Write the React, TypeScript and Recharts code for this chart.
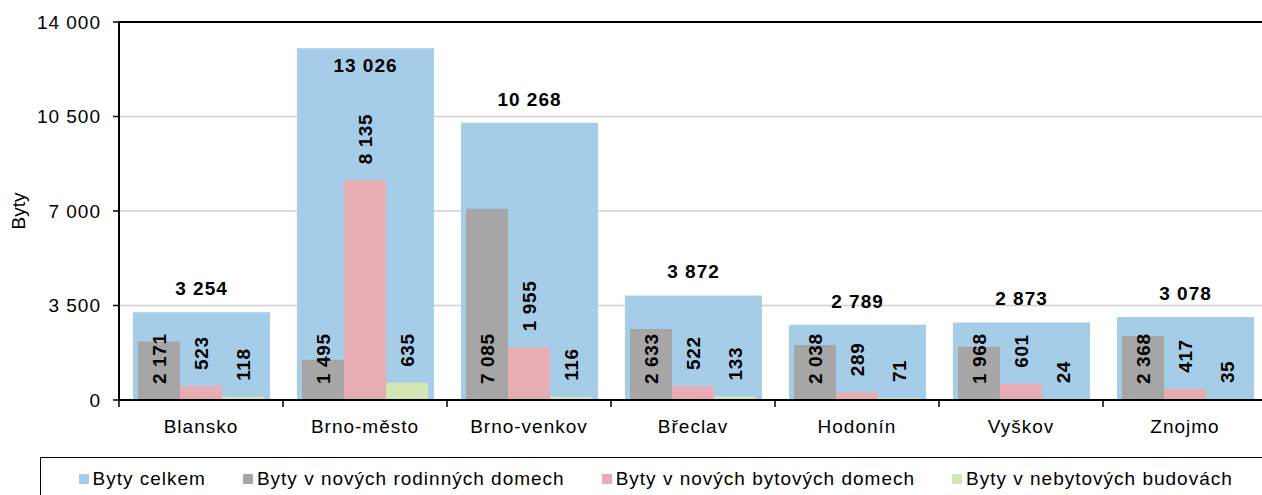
import React from 'react';
import { BarChart, Bar, XAxis, YAxis, CartesianGrid, ReferenceLine } from 'recharts';

const categories = ['Blansko', 'Brno-město', 'Brno-venkov', 'Břeclav', 'Hodonín', 'Vyškov', 'Znojmo'];
const totalFlats = [3254, 13026, 10268, 3872, 2789, 2873, 3078];
const familyHouseFlats = [2171, 1495, 7085, 2633, 2038, 1968, 2368];
const apartmentBuildingFlats = [523, 8135, 1955, 522, 289, 601, 417];
const nonResidentialFlats = [118, 635, 116, 133, 71, 24, 35];
const yTicks = [0, 3500, 7000, 10500, 14000];
const yLabel = 'Byty';
const seriesNames = [
  'Byty celkem',
  'Byty v nových rodinných domech',
  'Byty v nových bytových domech',
  'Byty v nebytových budovách',
];
const seriesColors = ['#a6cde8', '#a6a6a6', '#e6aeb2', '#d3e6b4'];

const data = categories.map((name, i) => ({
  name,
  total: totalFlats[i],
  family: familyHouseFlats[i],
  apartment: apartmentBuildingFlats[i],
  nonres: nonResidentialFlats[i],
}));

const FONT = '"Liberation Sans", Arial, Helvetica, sans-serif';
const fmt = (v: any) => String(v).replace(/\B(?=(\d{3})+(?!\d))/g, ' ');

const TotalLabel = (p: any) => {
  const x = Number(p.x), y = Number(p.y), w = Number(p.width);
  const inside = y < 70;
  return (
    <text x={x + w / 2} y={inside ? y + 24 : y - 17} textAnchor="middle" fontFamily={FONT}
      fontSize={19} fontWeight="bold" letterSpacing={1} fill="#000">
      {fmt(p.value)}
    </text>
  );
};

const rotatedText = (cx: number, startY: number, value: any) => (
  <text x={cx} y={startY} dy="0.35em" transform={`rotate(-90 ${cx} ${startY})`} textAnchor="start"
    fontFamily={FONT} fontSize={19} fontWeight="bold" letterSpacing={0.6} fill="#000">
    {fmt(value)}
  </text>
);

const BaseLabel = (p: any) => {
  const x = Number(p.x), y = Number(p.y), w = Number(p.width), h = Number(p.height);
  return rotatedText(x + w / 2, y + h - 16, p.value);
};

const EndLabel = (p: any) => {
  const x = Number(p.x), y = Number(p.y), w = Number(p.width);
  return rotatedText(x + w / 2, y - 16, p.value);
};

const XTick = (p: any) => {
  const x = Number(p.x), y = Number(p.y);
  let bw = Number(p.width) / Number(p.visibleTicksCount);
  if (!isFinite(bw) || bw <= 0) bw = Number(p.payload?.offset ?? 0) * 2;
  const last = p.index === Number(p.visibleTicksCount) - 1;
  return (
    <g>
      <line x1={x - bw / 2} y1={y} x2={x - bw / 2} y2={y + 7} stroke="#000" strokeWidth={1.5} />
      {last && <line x1={x + bw / 2} y1={y} x2={x + bw / 2} y2={y + 7} stroke="#000" strokeWidth={1.5} />}
      <text x={x} y={y + 33} textAnchor="middle" fontFamily={FONT} fontSize={19} letterSpacing={1} fill="#000">
        {p.payload?.value}
      </text>
    </g>
  );
};

const YLabel = (p: any) => {
  const vb = p.viewBox || { x: 0, y: 22, width: 119, height: 378 };
  const cx = vb.x + 18;
  const cy = vb.y + vb.height / 2;
  return (
    <text x={cx} y={cy} dy="0.35em" transform={`rotate(-90 ${cx} ${cy})`} textAnchor="middle"
      fontFamily={FONT} fontSize={19} fill="#000">
      {yLabel}
    </text>
  );
};

export default function App() {
  return (
    <div style={{ position: 'absolute', left: 0, top: 0, width: 1262, height: 495, overflow: 'hidden', background: '#fff' }}>
      <BarChart width={1270} height={495} data={data} margin={{ top: 22, right: 3, bottom: 65, left: 0 }} barGap={0}>
        <CartesianGrid vertical={false} stroke="#d0d0d0" strokeWidth={1.5} xAxisId="a" />
        <XAxis xAxisId="a" dataKey="name" type="category" interval={0} tickLine={false} tickSize={0} tickMargin={0}
          height={30} axisLine={{ stroke: '#000', strokeWidth: 2 }} tick={<XTick />} />
        <XAxis xAxisId="b" dataKey="name" type="category" hide />
        <YAxis type="number" domain={[0, 14000]} ticks={yTicks} interval={0} width={119}
          tickFormatter={fmt} tickSize={6} tickMargin={12}
          axisLine={{ stroke: '#000', strokeWidth: 2 }} tickLine={{ stroke: '#000', strokeWidth: 1.5 }}
          tick={{ fill: '#000', fontSize: 19, fontFamily: FONT, letterSpacing: 1 }}
          label={{ content: <YLabel /> }} />
        <ReferenceLine y={14000} xAxisId="a" stroke="#000" strokeWidth={2} />
        <Bar xAxisId="a" dataKey="total" name={seriesNames[0]} fill={seriesColors[0]} barSize={137}
          isAnimationActive={false} label={<TotalLabel />} />
        <Bar xAxisId="b" dataKey="family" name={seriesNames[1]} fill={seriesColors[1]} barSize={42}
          isAnimationActive={false} label={<BaseLabel />} />
        <Bar xAxisId="b" dataKey="apartment" name={seriesNames[2]} fill={seriesColors[2]} barSize={42}
          isAnimationActive={false} label={<EndLabel />} />
        <Bar xAxisId="b" dataKey="nonres" name={seriesNames[3]} fill={seriesColors[3]} barSize={42}
          isAnimationActive={false} label={<EndLabel />} />
      </BarChart>
      <div style={{
        position: 'absolute', left: 40, top: 457, width: 1240, height: 60, boxSizing: 'border-box',
        border: '1.5px solid #000', paddingLeft: 37.5, paddingTop: 11,
      }}>
        <div style={{ display: 'flex', alignItems: 'center', height: 19, lineHeight: '19px' }}>
          {seriesNames.map((n, i) => (
            <div key={n} style={{ display: 'flex', alignItems: 'center', marginRight: 37 }}>
              <span style={{ display: 'inline-block', width: 10, height: 10, background: seriesColors[i], marginRight: 4 }} />
              <span style={{ fontFamily: FONT, fontSize: 19, letterSpacing: 1, color: '#000', whiteSpace: 'nowrap' }}>{n}</span>
            </div>
          ))}
        </div>
      </div>
    </div>
  );
}
